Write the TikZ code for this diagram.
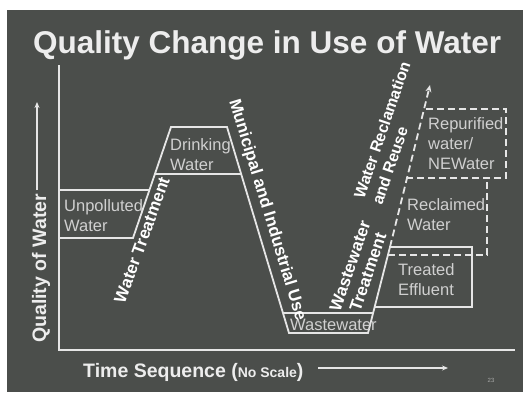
\documentclass[tikz,border=0pt]{standalone}
\usepackage{fontspec}
\setmainfont{Liberation Sans}
\usetikzlibrary{arrows.meta}
\definecolor{bg}{HTML}{4B4E4B}
\definecolor{ln}{HTML}{E6E6E6}
\definecolor{lbl}{HTML}{D0D0D0}
\definecolor{ttl}{HTML}{EDEDED}
\begin{document}
\begin{tikzpicture}[x=1pt,y=-1pt,
  curve/.style={draw=ln, line width=1.8pt, line join=miter},
  dashcurve/.style={draw=ln, line width=1.8pt, dash pattern=on 7pt off 4pt},
  boxlabel/.style={text=lbl, font=\fontsize{16.5}{20}\selectfont, inner sep=0pt, align=left, anchor=base west},
  slabel/.style={text=white, font=\bfseries\fontsize{17}{19}\selectfont, inner sep=0pt, align=center},
  axlabel/.style={text=ttl, font=\bfseries\fontsize{19.5}{22}\selectfont, inner sep=0pt, anchor=base west},
  arr/.style={draw=ln, line width=1.4pt, -{Stealth[length=6pt,width=5pt]}}
]
\useasboundingbox (0,0) rectangle (523,392);
\fill[white] (0,0) rectangle (523,392);
\fill[bg] (7,10) rectangle (523,392);

% title
\node[text=ttl, font=\bfseries\fontsize{31.5}{34}\selectfont, inner sep=0pt, anchor=base west] (title) at (33,53) {Quality Change in Use of Water};

% axes
\coordinate (ytop) at (59,65);
\coordinate (org) at (59,350);
\coordinate (xend) at (515,350);
\draw[curve] (ytop) -- (org) -- (xend);

% axis labels
\node[axlabel, rotate=90] (ylab) at (46,343) {Quality of Water};
\coordinate (yarrS) at (37,190);
\coordinate (yarrE) at (37,102);
\draw[arr] (yarrS) -- (yarrE);
\node[axlabel] (xlab) at (83,377) {Time Sequence (\fontsize{14}{15}\selectfont No Scale\fontsize{19.5}{22}\selectfont)};
\coordinate (xarrS) at (318,368);
\coordinate (xarrE) at (448,368);
\draw[arr] (xarrS) -- (xarrE);
\node[text=lbl!70!bg, font=\fontsize{6}{7}\selectfont, inner sep=0pt] (pg) at (491,380) {23};

% main quality curve
\coordinate (a1) at (59,238);
\coordinate (a2) at (133,238);
\coordinate (a3) at (171,127);
\coordinate (a4) at (227,127);
\coordinate (a5) at (289,333);
\coordinate (a6) at (368,333);
\coordinate (a7) at (390,247);
\coordinate (a8) at (472,247);
\coordinate (a9) at (472,307);
\coordinate (a10) at (374,307);
\draw[curve] (a1) -- (a2) -- (a3) -- (a4) -- (a5) -- (a6) -- (a7) -- (a8) -- (a9) -- (a10);

% band lines
\coordinate (u1) at (59,190);
\coordinate (u2) at (149,190);
\draw[curve] (u1) -- (u2);
\coordinate (d1) at (155,174);
\coordinate (d2) at (241,174);
\draw[curve] (d1) -- (d2);
\coordinate (w1) at (283,313);
\coordinate (w2) at (373,313);
\draw[curve] (w1) -- (w2);

% dashed reuse path
\coordinate (r0) at (390,247);
\coordinate (rtip) at (430,85);
\draw[dashcurve, -{Stealth[length=7pt,width=6pt,open]}] (r0) -- (rtip);
\coordinate (c1) at (388,255);
\coordinate (c2) at (487,255);
\coordinate (c3) at (487,178);
\draw[dashcurve] (c1) -- (c2) -- (c3);
\coordinate (n1) at (406,178);
\coordinate (n2) at (506,178);
\coordinate (n3) at (506,109);
\coordinate (n4) at (424,109);
\draw[dashcurve] (n1) -- (n2) -- (n3) -- (n4);

% box labels (anchor = baseline of last line)
\node[boxlabel] (unp) at (64,231) {Unpolluted\\Water};
\node[boxlabel] (drk) at (170,170) {Drinking\\Water};
\node[boxlabel] (wst) at (290,330) {Wastewater};
\node[boxlabel] (tre) at (398,295) {Treated\\Effluent};
\node[boxlabel] (rcl) at (407,230) {Reclaimed\\Water};
\node[boxlabel] (rep) at (428,169) {Repurified\\water/\\NEWater};

% process labels
\node[slabel, rotate=70] (wt) at (142,240) {Water Treatment};
\node[slabel, rotate=-73] (mu) at (267,210) {Municipal and Industrial Use};
\node[slabel, rotate=71] (wwt) at (359,269) {Wastewater\\Treatment};
\node[slabel, rotate=71, align=left, font=\bfseries\fontsize{16}{19}\selectfont] (wrr) at (391,133) {Water Reclamation\\and Reuse};
\end{tikzpicture}
\end{document}
